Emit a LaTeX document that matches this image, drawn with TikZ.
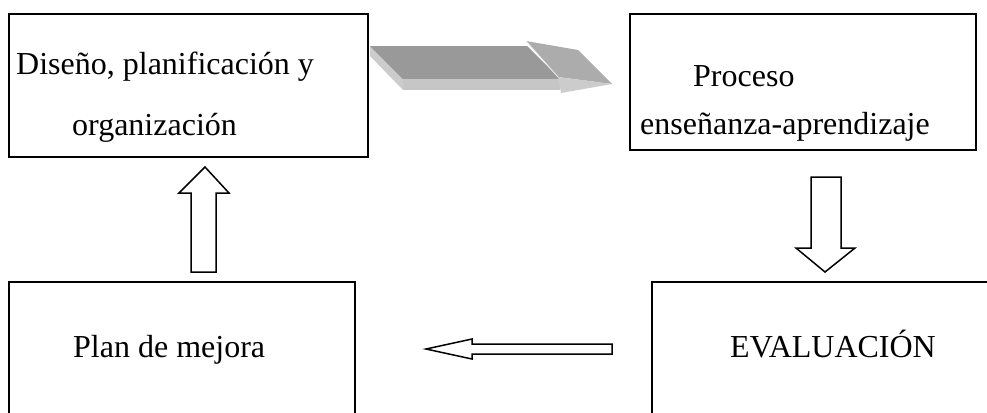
\documentclass[tikz,border=0pt]{standalone}
\usepackage{fontspec}
\setmainfont{Liberation Serif}
\begin{document}
\begin{tikzpicture}[x=1bp,y=-1bp,
  box/.style={draw=black,line width=1.8bp,inner sep=0pt},
  lbl/.style={anchor=base west,inner sep=0pt,font=\fontsize{32bp}{38bp}\selectfont},
  blockarrow/.style={draw=black,line width=1.5bp,fill=white,line join=miter}]
\useasboundingbox (0,0) rectangle (987,412);
\clip (0,0) rectangle (987,412);
% boxes
\node[box,minimum width=359bp,minimum height=143bp] (b1) at (188.5,85.5) {};
\node[box,minimum width=346bp,minimum height=136bp] (b2) at (803,82) {};
\node[box,minimum width=346bp,minimum height=150bp] (b3) at (182,357) {};
\node[box,minimum width=360bp,minimum height=150bp] (b4) at (832,357) {};
% texts
\node[lbl] (t1) at (16,74) {Diseño, planificación y};
\node[lbl] (t2) at (72,135) {organización};
\node[lbl] (t3) at (693,86) {Proceso};
\node[lbl] (t4) at (640,134) {enseñanza-aprendizaje};
\node[lbl] (t5) at (73,357) {Plan de mejora};
\node[lbl] (t6) at (730,357) {EVALUACIÓN};
% 3D arrow
\coordinate (a1) at (370,46);
\fill[gray!40] (a1) -- (403,78) -- (403,90) -- (370,56) -- cycle;
\fill[gray!80] (a1) -- (527,46) -- (560,79) -- (403,79) -- cycle;
\fill[gray!45] (403,79) -- (560,79) -- (560,90) -- (403,90) -- cycle;
\fill[gray!65] (526,41) -- (578,50) -- (612,84) -- (558,77) -- cycle;
\fill[gray!40] (558,77) -- (612,84) -- (561,93) -- cycle;
\draw[white!85!gray,line width=0.8bp] (526,41) -- (558,77);
% up arrow
\draw[blockarrow] (191,272) -- (191,193) -- (179,193) -- (205,167) -- (229,193) -- (216,193) -- (216,272) -- cycle;
% down arrow
\draw[blockarrow] (811,177) -- (841,177) -- (841,248) -- (855,248) -- (825,272) -- (796,248) -- (811,248) -- cycle;
% left arrow
\draw[blockarrow] (612,344) -- (472,344) -- (472,339) -- (426,349) -- (472,359) -- (472,354) -- (612,354) -- cycle;
\end{tikzpicture}
\end{document}
